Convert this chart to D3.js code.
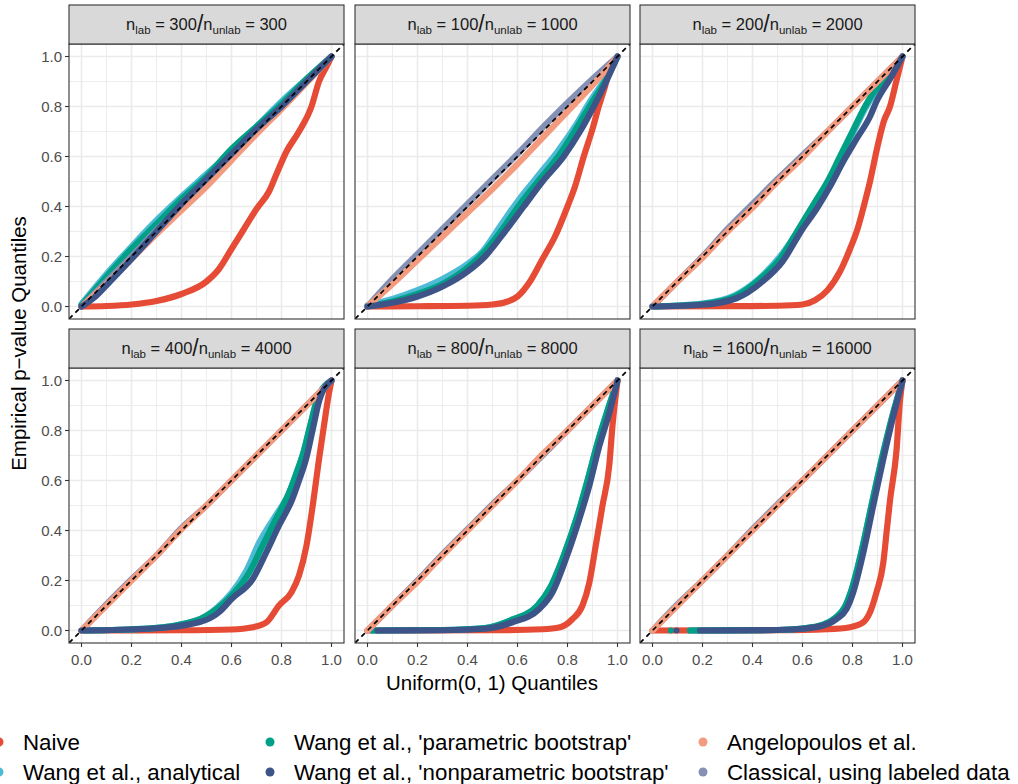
<!DOCTYPE html>
<html>
<head>
<meta charset="utf-8">
<script src="https://cdn.jsdelivr.net/npm/d3@7"></script>
<style>
  body { margin: 0; background: #fff; }
  svg { display: block; font-family: "Liberation Sans", Arial, sans-serif; }
</style>
</head>
<body>
<script>
// facet labels
const nLab = [300, 100, 200, 400, 800, 1600]
const nUnlab = [300, 1000, 2000, 4000, 8000, 16000]

const methods = [
  'Naive',
  'Wang et al., analytical',
  "Wang et al., 'parametric bootstrap'",
  "Wang et al., 'nonparametric bootstrap'",
  'Angelopoulos et al.',
  'Classical, using labeled data'
]

const axisTicks = [0, 0.2, 0.4, 0.6, 0.8, 1.0]
const minorTicks = [0.1, 0.3, 0.5, 0.7, 0.9]

// quantile curves, [uniform, empirical], one list per panel
const naive = [
  [[0,0],[0.1,0.002],[0.2,0.008],[0.3,0.022],[0.4,0.05],[0.5,0.1],[0.55,0.15],[0.6,0.23],[0.65,0.31],[0.7,0.39],[0.75,0.46],[0.78,0.53],[0.82,0.62],[0.87,0.7],[0.92,0.8],[0.95,0.9],[0.98,0.96],[1,1]],
  [[0,0],[0.2,0.001],[0.4,0.003],[0.5,0.008],[0.56,0.02],[0.6,0.04],[0.65,0.1],[0.7,0.19],[0.75,0.28],[0.8,0.4],[0.83,0.48],[0.865,0.6],[0.9,0.71],[0.925,0.8],[0.95,0.88],[0.97,0.95],[1,1]],
  [[0,0],[0.3,0.001],[0.5,0.003],[0.6,0.008],[0.65,0.025],[0.7,0.065],[0.75,0.14],[0.79,0.23],[0.82,0.31],[0.85,0.42],[0.87,0.5],[0.9,0.64],[0.925,0.74],[0.95,0.8],[0.975,0.9],[1,1]],
  [[0,0],[0.4,0.001],[0.6,0.004],[0.685,0.013],[0.74,0.033],[0.79,0.1],[0.84,0.153],[0.87,0.22],[0.9,0.34],[0.925,0.5],[0.95,0.685],[0.97,0.82],[0.99,0.95],[1,1]],
  [[0,0],[0.5,0.001],[0.7,0.005],[0.77,0.013],[0.82,0.046],[0.86,0.1],[0.887,0.19],[0.913,0.34],[0.94,0.5],[0.967,0.66],[0.98,0.82],[1,1]],
  [[0,0],[0.5,0.001],[0.7,0.005],[0.79,0.013],[0.843,0.033],[0.87,0.073],[0.896,0.153],[0.923,0.27],[0.936,0.39],[0.95,0.52],[0.976,0.72],[0.99,0.92],[1,1]]
]

const analytical = [
  [[0,0.01],[0.1,0.13],[0.2,0.24],[0.3,0.345],[0.4,0.44],[0.5,0.53],[0.6,0.62],[0.7,0.72],[0.8,0.82],[0.9,0.91],[1,1]],
  [[0,0.005],[0.1,0.03],[0.2,0.065],[0.3,0.11],[0.4,0.17],[0.46,0.22],[0.53,0.32],[0.6,0.42],[0.68,0.52],[0.76,0.62],[0.83,0.72],[0.89,0.82],[0.95,0.91],[1,1]],
  [[0,0],[0.2,0.012],[0.33,0.045],[0.43,0.115],[0.51,0.2],[0.6,0.33],[0.65,0.405],[0.7,0.49],[0.75,0.59],[0.8,0.69],[0.85,0.79],[0.88,0.84],[0.94,0.92],[1,1]],
  [[0,0],[0.27,0.008],[0.46,0.04],[0.54,0.09],[0.6,0.15],[0.66,0.24],[0.71,0.35],[0.77,0.45],[0.83,0.55],[0.86,0.63],[0.89,0.72],[0.915,0.82],[0.945,0.93],[1,1]],
  [[0.02,0],[0.3,0.002],[0.47,0.01],[0.57,0.04],[0.68,0.1],[0.73,0.17],[0.785,0.3],[0.84,0.46],[0.88,0.6],[0.92,0.75],[0.96,0.88],[1,1]],
  [[0.15,0],[0.5,0.002],[0.6,0.008],[0.68,0.022],[0.73,0.05],[0.77,0.095],[0.797,0.165],[0.837,0.32],[0.878,0.51],[0.918,0.69],[0.96,0.86],[1,1]]
]

const parametric = [
  [[0,0.005],[0.1,0.12],[0.2,0.23],[0.3,0.33],[0.4,0.43],[0.5,0.52],[0.6,0.63],[0.7,0.72],[0.8,0.81],[0.9,0.91],[1,1]],
  [[0,0],[0.1,0.02],[0.2,0.05],[0.3,0.09],[0.4,0.155],[0.46,0.21],[0.54,0.31],[0.61,0.41],[0.69,0.51],[0.77,0.61],[0.84,0.72],[0.9,0.82],[0.95,0.9],[1,1]],
  [[0,0],[0.2,0.01],[0.33,0.04],[0.43,0.11],[0.51,0.19],[0.59,0.32],[0.645,0.41],[0.7,0.5],[0.75,0.6],[0.8,0.7],[0.85,0.8],[0.88,0.85],[0.94,0.92],[1,1]],
  [[0,0],[0.27,0.008],[0.46,0.04],[0.54,0.085],[0.6,0.14],[0.67,0.23],[0.72,0.33],[0.775,0.44],[0.83,0.55],[0.86,0.63],[0.89,0.72],[0.915,0.82],[0.945,0.93],[1,1]],
  [[0.02,0],[0.3,0.002],[0.47,0.01],[0.57,0.04],[0.68,0.1],[0.73,0.17],[0.785,0.3],[0.84,0.46],[0.88,0.6],[0.92,0.75],[0.96,0.88],[1,1]],
  [[0.15,0],[0.5,0.002],[0.6,0.008],[0.68,0.022],[0.73,0.05],[0.77,0.095],[0.797,0.165],[0.837,0.32],[0.878,0.51],[0.918,0.69],[0.96,0.86],[1,1]]
]

const nonparametric = [
  [[0,0],[0.05,0.035],[0.1,0.085],[0.2,0.19],[0.3,0.3],[0.4,0.41],[0.5,0.51],[0.6,0.61],[0.7,0.71],[0.8,0.8],[0.9,0.9],[1,1]],
  [[0,0],[0.1,0.015],[0.2,0.04],[0.3,0.08],[0.4,0.14],[0.47,0.2],[0.55,0.3],[0.625,0.4],[0.7,0.5],[0.785,0.6],[0.85,0.7],[0.905,0.8],[0.95,0.89],[1,1]],
  [[0,0],[0.2,0.007],[0.336,0.033],[0.44,0.1],[0.52,0.18],[0.6,0.31],[0.656,0.39],[0.71,0.48],[0.763,0.58],[0.816,0.67],[0.87,0.76],[0.896,0.82],[0.95,0.91],[1,1]],
  [[0,0],[0.27,0.007],[0.47,0.033],[0.55,0.073],[0.6,0.126],[0.685,0.206],[0.738,0.31],[0.79,0.42],[0.843,0.525],[0.87,0.6],[0.898,0.685],[0.924,0.8],[0.951,0.92],[1,1]],
  [[0.04,0],[0.3,0.001],[0.47,0.007],[0.58,0.033],[0.687,0.086],[0.74,0.153],[0.793,0.285],[0.847,0.445],[0.887,0.578],[0.927,0.737],[0.967,0.87],[1,1]],
  [[0.19,0],[0.5,0.002],[0.6,0.007],[0.683,0.02],[0.736,0.046],[0.776,0.086],[0.803,0.153],[0.843,0.31],[0.883,0.5],[0.923,0.685],[0.963,0.857],[1,1]]
]

const angelopoulos = [
  [[0,0],[0.1,0.09],[0.2,0.19],[0.3,0.29],[0.4,0.385],[0.5,0.48],[0.6,0.585],[0.7,0.69],[0.8,0.79],[0.9,0.895],[1,1]],
  [[0,0],[0.1,0.09],[0.2,0.185],[0.3,0.28],[0.4,0.375],[0.5,0.47],[0.6,0.57],[0.7,0.675],[0.8,0.78],[0.9,0.885],[1,1]],
  [[0,0],[0.1,0.1],[0.2,0.195],[0.3,0.3],[0.4,0.395],[0.5,0.5],[0.6,0.595],[0.7,0.7],[0.8,0.8],[0.9,0.9],[1,1]],
  [[0,0],[0.1,0.1],[0.2,0.2],[0.3,0.3],[0.4,0.405],[0.5,0.5],[0.6,0.6],[0.7,0.7],[0.8,0.8],[0.9,0.9],[1,1]],
  [[0,0],[0.1,0.1],[0.2,0.195],[0.3,0.3],[0.4,0.4],[0.5,0.5],[0.6,0.6],[0.7,0.705],[0.8,0.8],[0.9,0.9],[1,1]],
  [[0,0],[0.1,0.1],[0.2,0.2],[0.3,0.3],[0.4,0.4],[0.5,0.5],[0.6,0.6],[0.7,0.7],[0.8,0.8],[0.9,0.9],[1,1]]
]

const classical = [
  [[0,0],[0.1,0.1],[0.2,0.2],[0.3,0.305],[0.4,0.4],[0.5,0.505],[0.6,0.6],[0.7,0.705],[0.8,0.8],[0.9,0.9],[1,1]],
  [[0,0],[0.1,0.11],[0.2,0.21],[0.3,0.31],[0.4,0.41],[0.5,0.51],[0.6,0.61],[0.7,0.715],[0.8,0.815],[0.9,0.91],[1,1]],
  [[0,0],[0.1,0.1],[0.2,0.2],[0.3,0.31],[0.4,0.41],[0.5,0.51],[0.6,0.605],[0.7,0.7],[0.8,0.8],[0.9,0.9],[1,1]],
  [[0,0],[0.1,0.105],[0.2,0.205],[0.3,0.3],[0.4,0.41],[0.5,0.5],[0.6,0.6],[0.7,0.7],[0.8,0.8],[0.9,0.9],[1,1]],
  [[0,0],[0.1,0.1],[0.2,0.2],[0.3,0.305],[0.4,0.405],[0.5,0.505],[0.6,0.6],[0.7,0.7],[0.8,0.8],[0.9,0.9],[1,1]],
  [[0,0],[0.1,0.105],[0.2,0.2],[0.3,0.3],[0.4,0.405],[0.5,0.505],[0.6,0.6],[0.7,0.7],[0.8,0.8],[0.9,0.9],[1,1]]
]

// stray points at the bottom of the last panel
const strayPanel = [5, 5]
const strayMethod = [2, 3]
const strayX = [0.073, 0.096]
const strayY = [0, 0]

const series = [naive, analytical, parametric, nonparametric, angelopoulos, classical]
const colors = ['#E64B35', '#4DBBD5', '#00A087', '#3C5488', '#F39B7F', '#8491B4']
// draw order (nonparametric over the bootstraps, Angelopoulos on top of the diagonal)
const drawOrder = [0, 1, 2, 5, 4, 3]

// layout
const W = 1018, H = 784
const PW = 275, PH = 275, STRIP = 39
const colX = [69, 355, 640]
const rowY = [44, 368]

let svg = d3.select('body').append('svg')
  .attr('width', W)
  .attr('height', H)

let defs = svg.append('defs')
let fmt = d3.format('.1f')
let line = d3.line().curve(d3.curveMonotoneX)

for (let p = 0; p < 6; p++) {
  let col = p % 3, row = Math.floor(p / 3)
  let x0 = colX[col], y0 = rowY[row]
  let x = d3.scaleLinear().domain([-0.05, 1.05]).range([x0, x0 + PW])
  let y = d3.scaleLinear().domain([-0.05, 1.05]).range([y0 + PH, y0])
  line.x(d => x(d[0])).y(d => y(d[1]))

  defs.append('clipPath').attr('id', 'clip' + p)
    .append('rect').attr('x', x0).attr('y', y0).attr('width', PW).attr('height', PH)

  let g = svg.append('g')

  // background grid
  g.selectAll('.minx').data(minorTicks).enter().append('line')
    .attr('x1', d => x(d)).attr('x2', d => x(d)).attr('y1', y0).attr('y2', y0 + PH)
    .attr('stroke', '#EBEBEB').attr('stroke-width', 0.9)
  g.selectAll('.miny').data(minorTicks).enter().append('line')
    .attr('y1', d => y(d)).attr('y2', d => y(d)).attr('x1', x0).attr('x2', x0 + PW)
    .attr('stroke', '#EBEBEB').attr('stroke-width', 0.9)
  g.selectAll('.majx').data(axisTicks).enter().append('line')
    .attr('x1', d => x(d)).attr('x2', d => x(d)).attr('y1', y0).attr('y2', y0 + PH)
    .attr('stroke', '#EBEBEB').attr('stroke-width', 1.6)
  g.selectAll('.majy').data(axisTicks).enter().append('line')
    .attr('y1', d => y(d)).attr('y2', d => y(d)).attr('x1', x0).attr('x2', x0 + PW)
    .attr('stroke', '#EBEBEB').attr('stroke-width', 1.6)

  // point clouds, dense enough to read as thick bands
  let marks = g.append('g').attr('clip-path', 'url(#clip' + p + ')')
  drawOrder.forEach(m => {
    marks.append('path')
      .attr('d', line(series[m][p]))
      .attr('fill', 'none')
      .attr('stroke', colors[m])
      .attr('stroke-width', 6.2)
      .attr('stroke-linecap', 'round')
      .attr('stroke-linejoin', 'round')
  })
  strayX.forEach((sx, i) => {
    if (strayPanel[i] !== p) return
    marks.append('circle')
      .attr('cx', x(sx)).attr('cy', y(strayY[i])).attr('r', 3)
      .attr('fill', colors[strayMethod[i]])
  })

  // y = x reference
  marks.append('line')
    .attr('x1', x(-0.05)).attr('y1', y(-0.05)).attr('x2', x(1.05)).attr('y2', y(1.05))
    .attr('stroke', '#000').attr('stroke-width', 1.7).attr('stroke-dasharray', '5,4')

  // panel border
  g.append('rect').attr('x', x0).attr('y', y0).attr('width', PW).attr('height', PH)
    .attr('fill', 'none').attr('stroke', '#333').attr('stroke-width', 1.1)

  // strip
  g.append('rect').attr('x', x0).attr('y', y0 - STRIP).attr('width', PW).attr('height', STRIP)
    .attr('fill', '#D9D9D9').attr('stroke', '#333').attr('stroke-width', 1.1)
  let st = g.append('text')
    .attr('x', x0 + PW / 2).attr('y', y0 - STRIP / 2 + 5)
    .attr('text-anchor', 'middle')
    .attr('font-size', 16.5).attr('fill', '#1A1A1A')
  st.append('tspan').text('n')
  st.append('tspan').attr('font-size', 11.5).attr('dy', 4).text('lab')
  st.append('tspan').attr('dy', -4).text(' = ' + nLab[p])
  st.append('tspan').attr('font-size', 23).attr('dy', 2).text('/')
  st.append('tspan').attr('dy', -2).text('n')
  st.append('tspan').attr('font-size', 11.5).attr('dy', 4).text('unlab')
  st.append('tspan').attr('dy', -4).text(' = ' + nUnlab[p])

  // axes
  if (col === 0) {
    let ay = g.append('g')
    ay.selectAll('line').data(axisTicks).enter().append('line')
      .attr('x1', x0 - 4).attr('x2', x0).attr('y1', d => y(d)).attr('y2', d => y(d))
      .attr('stroke', '#333').attr('stroke-width', 1.1)
    ay.selectAll('text').data(axisTicks).enter().append('text')
      .attr('x', x0 - 7).attr('y', d => y(d) + 5)
      .attr('text-anchor', 'end').attr('font-size', 15).attr('fill', '#4D4D4D')
      .text(d => fmt(d))
  }
  if (row === 1) {
    let ax = g.append('g')
    ax.selectAll('line').data(axisTicks).enter().append('line')
      .attr('x1', d => x(d)).attr('x2', d => x(d)).attr('y1', y0 + PH).attr('y2', y0 + PH + 4)
      .attr('stroke', '#333').attr('stroke-width', 1.1)
    ax.selectAll('text').data(axisTicks).enter().append('text')
      .attr('x', d => x(d)).attr('y', y0 + PH + 22)
      .attr('text-anchor', 'middle').attr('font-size', 15).attr('fill', '#4D4D4D')
      .text(d => fmt(d))
  }
}

// axis titles
svg.append('text')
  .attr('x', (colX[0] + colX[2] + PW) / 2).attr('y', 690)
  .attr('text-anchor', 'middle').attr('font-size', 20.5).attr('fill', '#000')
  .text('Uniform(0, 1) Quantiles')
svg.append('text')
  .attr('transform', 'translate(26,' + ((rowY[0] + rowY[1] + PH) / 2) + ') rotate(-90)')
  .attr('text-anchor', 'middle').attr('font-size', 20.5).attr('fill', '#000')
  .text('Empirical p\u2212value Quantiles')

// legend, 3 columns x 2 rows, filled by column
const legKeyX = [-1, 270, 703]
const legRowY = [742, 772]
let leg = svg.append('g').selectAll('g')
  .data(methods)
  .enter()
  .append('g')
  .attr('transform', (d, i) => 'translate(' + legKeyX[Math.floor(i / 2)] + ',' + legRowY[i % 2] + ')')
leg.append('circle').attr('r', 4.5).attr('fill', (d, i) => colors[i])
leg.append('text')
  .attr('x', 24).attr('y', 8)
  .attr('font-size', 22.3).attr('fill', '#000')
  .text(d => d)
</script>
</body>
</html>
